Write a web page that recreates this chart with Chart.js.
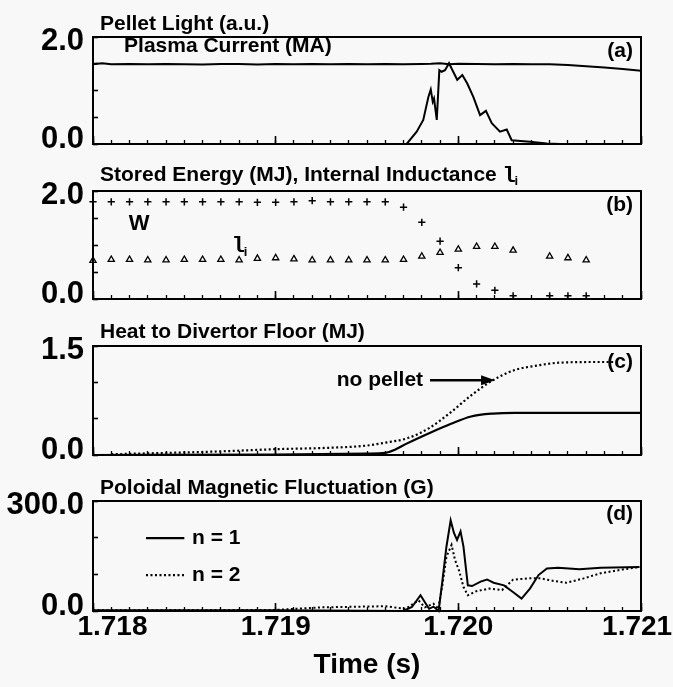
<!DOCTYPE html>
<html>
<head>
<meta charset="utf-8">
<script src="https://cdn.jsdelivr.net/npm/chart.js@4.4.0/dist/chart.umd.min.js"></script>
<style>
html,body{margin:0;padding:0;background:#f8f8f8;}
#wrap{position:relative;width:673px;height:687px;overflow:hidden;background:#f8f8f8;}
canvas{position:absolute;left:0;top:0;}
</style>
</head>
<body>
<div id="wrap">
<canvas id="ca" width="673" height="687"></canvas>
<canvas id="cb" width="673" height="687"></canvas>
<canvas id="cc" width="673" height="687"></canvas>
<canvas id="cd" width="673" height="687"></canvas>
</div>
<script>
// ---------------- data ----------------
const xTickValues = [1.718, 1.719, 1.720, 1.721];
const xTickLabels = ['1.718', '1.719', '1.720', '1.721'];

// (a) plasma current (MA)
const currentTime = [1.7180,1.71805,1.7181,1.7182,1.7183,1.7184,1.7185,1.7186,1.7187,1.7188,1.7189,1.7190,1.7191,1.7192,1.7193,1.7194,1.7195,1.7196,1.7197,1.7198,1.71985,1.7199,1.71995,1.7200,1.7201,1.7202,1.7203,1.7204,1.7205,1.7206,1.7207,1.7208,1.7209,1.7210];
const currentMA   = [1.49,1.51,1.49,1.495,1.49,1.495,1.49,1.485,1.495,1.495,1.485,1.495,1.49,1.495,1.49,1.495,1.49,1.495,1.49,1.495,1.50,1.51,1.49,1.50,1.495,1.49,1.495,1.49,1.49,1.475,1.455,1.43,1.40,1.37];
// (a) pellet light (a.u.)
const lightTime = [1.7180,1.7197,1.719717,1.719772,1.719808,1.719836,1.719849,1.719860,1.719867,1.719882,1.719896,1.719908,1.719927,1.719949,1.719972,1.719994,1.720022,1.720049,1.720082,1.720119,1.720151,1.720183,1.720228,1.720265,1.720292,1.720392,1.720484,1.720557,1.7210];
const lightAU   = [0,0,0,0.23,0.45,0.88,1.02,0.79,0.85,0.45,1.38,1.35,1.38,1.51,1.35,1.20,1.29,1.13,0.88,0.54,0.62,0.39,0.23,0.27,0.07,0.04,0.01,0,0];

// (b) stored energy W (MJ) and internal inductance li
const energyTime = [1.7180,1.7181,1.7182,1.7183,1.7184,1.7185,1.7186,1.7187,1.7188,1.7189,1.7190,1.7191,1.7192,1.7193,1.7194,1.7195,1.7196,1.7197,1.7198,1.7199,1.7200,1.7201,1.7202,1.7203,1.7205,1.7206,1.7207];
const energyMJ   = [1.80,1.80,1.80,1.80,1.80,1.80,1.80,1.80,1.80,1.79,1.79,1.80,1.82,1.80,1.80,1.80,1.80,1.70,1.42,1.07,0.58,0.28,0.16,0.06,0.06,0.06,0.06];
const inductTime = [1.7180,1.7181,1.7182,1.7183,1.7184,1.7185,1.7186,1.7187,1.7188,1.7189,1.7190,1.7191,1.7192,1.7193,1.7194,1.7195,1.7196,1.7197,1.7198,1.7199,1.7200,1.7201,1.7202,1.7203,1.7205,1.7206,1.7207];
const inductLi   = [0.71,0.73,0.73,0.72,0.72,0.73,0.73,0.73,0.72,0.75,0.76,0.74,0.72,0.72,0.72,0.72,0.72,0.73,0.79,0.86,0.92,0.97,0.97,0.90,0.79,0.76,0.72];

// (c) heat to divertor floor (MJ)
const heatPelletTime = [1.7180,1.7190,1.7195,1.7196,1.71965,1.71972,1.71984,1.71996,1.72007,1.72019,1.72031,1.7210];
const heatPelletMJ   = [0,0.005,0.02,0.03,0.07,0.16,0.30,0.43,0.53,0.57,0.58,0.58];
const heatNoPelletTime = [1.7181,1.7187,1.7190,1.7193,1.7195,1.71960,1.71972,1.71984,1.71996,1.72007,1.72019,1.72031,1.72043,1.72055,1.72078,1.72085];
const heatNoPelletMJ   = [0.01,0.05,0.08,0.10,0.13,0.17,0.23,0.37,0.59,0.82,1.03,1.17,1.23,1.27,1.28,1.28];

// (d) poloidal magnetic fluctuation (G)
const n1Time = [1.7180,1.7190,1.719699,1.719746,1.719793,1.719822,1.719840,1.719864,1.719892,1.719911,1.719935,1.719958,1.719976,1.719993,1.720012,1.720028,1.720052,1.720075,1.720122,1.720157,1.720193,1.720250,1.720299,1.720346,1.720392,1.720439,1.720485,1.720546,1.720663,1.720780,1.720992];
const n1Gauss = [2,2,0,11,43,20,6,12,0,75,176,247,213,194,217,176,70,68,80,86,77,70,52,34,61,98,116,118,114,118,120];
const n2Time = [1.7180,1.7190,1.71925,1.7196,1.719711,1.719782,1.719817,1.719864,1.719889,1.719911,1.719935,1.719963,1.719982,1.720004,1.720028,1.720052,1.720099,1.720169,1.720239,1.720299,1.720381,1.720451,1.720521,1.720592,1.720686,1.720780,1.720898,1.720992];
const n2Gauss = [2,3,10,13,6,29,10,20,5,65,148,180,139,110,66,43,54,61,57,85,89,89,82,77,89,103,113,120];

// ---------------- styling / layout ----------------
const FONT = "'Liberation Sans', Arial, Helvetica, sans-serif";
const MONO = "'Liberation Mono', 'DejaVu Sans Mono', monospace";
const INK = '#000';
const PANEL_TOP = [37, 191, 346, 501];
const PANEL_BOTTOM = [144, 299, 455, 611];
const TITLE_OFF = [13, 16, 14, 13];
const W = 673, H = 687;

function pts(t, v) { return t.map((x, i) => ({x: x, y: v[i]})); }

function lineDs(t, v, dashed, width) {
  return {data: pts(t, v), borderColor: INK, borderWidth: width || 2, pointRadius: 0,
          borderDash: dashed ? [2, 2.5] : [], tension: 0, fill: false, clip: 4};
}

function text(ctx, s, x, y, size, align, family) {
  ctx.save();
  ctx.font = 'bold ' + size + 'px ' + (family || FONT);
  ctx.fillStyle = INK;
  ctx.textAlign = align || 'left';
  ctx.textBaseline = 'middle';
  ctx.fillText(s, x, y);
  ctx.restore();
}

function makePanel(id, idx, datasets, yMax, yStep, title, extras) {
  const isLast = idx === 3;
  const xH = isLast ? 76 : 0;
  const minorTicks = [];
  for (let i = 0; i <= 30; i++) minorTicks.push(+(1.718 + i * 0.0001).toFixed(4));
  return new Chart(document.getElementById(id), {
    type: 'line',
    data: {datasets: datasets},
    options: {
      responsive: false, animation: false, events: [], devicePixelRatio: 1,
      layout: {padding: {left: 0, right: 32, top: PANEL_TOP[idx], bottom: H - PANEL_BOTTOM[idx] - xH}},
      plugins: {legend: {display: false}, tooltip: {enabled: false}, title: {display: false}},
      scales: {
        x: {
          type: 'linear', min: 1.718, max: 1.721, position: 'bottom', weight: 0,
          afterBuildTicks: s => { s.ticks = minorTicks.map(v => ({value: v})); },
          ticks: {display: false},
          grid: {drawOnChartArea: false, drawTicks: true, tickLength: -4, tickColor: INK, tickWidth: 1.3},
          border: {display: false},
          afterFit: s => { s.height = 0; s.paddingLeft = 0; s.paddingRight = 0; }
        },
        x2: {
          type: 'linear', min: 1.718, max: 1.721, position: 'bottom', weight: 1,
          afterBuildTicks: s => { s.ticks = xTickValues.map(v => ({value: v})); },
          ticks: {display: isLast, autoSkip: false, maxRotation: 0, padding: 7, color: INK,
                  font: {family: FONT, size: 28, weight: 'bold'},
                  callback: (v, i) => (i === 0 ? '     ' : '') + xTickLabels[i] + (i === 3 ? ' ' : '')},
          grid: {drawOnChartArea: false, drawTicks: true, tickLength: -8, tickColor: INK, tickWidth: 1.6},
          border: {display: false},
          title: {display: isLast, text: 'Time (s)', color: INK,
                  font: {family: FONT, size: 28, weight: 'bold'}, padding: {top: 0, bottom: 5}},
          afterFit: s => { s.height = xH; s.paddingLeft = 0; s.paddingRight = 0; }
        },
        y: {
          type: 'linear', min: 0, max: yMax, position: 'left',
          ticks: {stepSize: yStep, autoSkip: false, padding: 14, color: INK,
                  font: {family: FONT, size: 31, weight: 'bold', lineHeight: '9px'},
                  // end labels sit slightly inside the frame, as in the original figure
                  callback: v => v === 0 ? [v.toFixed(1), ''] : (v === yMax ? ['', v.toFixed(1)] : '')},
          grid: {drawOnChartArea: false, drawTicks: true, tickLength: -5, tickColor: INK, tickWidth: 1.6},
          border: {display: false},
          afterFit: s => { s.width = 93; s.paddingTop = 0; s.paddingBottom = 0; }
        }
      }
    },
    plugins: [{
      id: 'frame' + idx,
      afterDraw(chart) {
        const ctx = chart.ctx, a = chart.chartArea;
        ctx.save();
        ctx.strokeStyle = INK; ctx.lineWidth = 2;
        ctx.strokeRect(a.left, a.top, a.right - a.left, a.bottom - a.top);
        ctx.restore();
        title(ctx, a.left + 7, a.top - TITLE_OFF[idx]);
        extras(chart, ctx, chart.scales.x, chart.scales.y);
      }
    }]
  });
}

// (a)
makePanel('ca', 0, [
  lineDs(currentTime, currentMA, false, 2),
  lineDs(lightTime, lightAU, false, 2)
], 2.0, 0.5,
(ctx, x, y) => text(ctx, 'Pellet Light (a.u.)', x, y, 21),
(chart, ctx, xs, ys) => {
  text(ctx, 'Plasma Current (MA)', xs.getPixelForValue(1.71817), ys.getPixelForValue(1.83), 21);
  text(ctx, '(a)', xs.getPixelForValue(1.720956), ys.getPixelForValue(1.74), 21, 'right');
});

// (b)
makePanel('cb', 1, [
  {data: pts(energyTime, energyMJ), showLine: false, pointStyle: 'cross', pointRadius: 3.6,
   borderColor: INK, borderWidth: 1.5, clip: false},
  {data: pts(inductTime, inductLi), showLine: false, pointStyle: 'triangle', pointRadius: 3.6,
   borderColor: INK, backgroundColor: 'rgba(0,0,0,0)', borderWidth: 1.3, clip: false}
], 2.0, 0.5,
(ctx, x, y) => {
  const s = 'Stored Energy (MJ), Internal Inductance ';
  text(ctx, s, x, y, 21);
  ctx.save(); ctx.font = 'bold 21px ' + FONT; const w = ctx.measureText(s).width; ctx.restore();
  text(ctx, 'l', x + w, y + 1, 22, 'left', MONO);
  text(ctx, 'i', x + w + 12, y + 6, 13);
},
(chart, ctx, xs, ys) => {
  text(ctx, 'W', xs.getPixelForValue(1.718252), ys.getPixelForValue(1.39), 22, 'center');
  const lx = xs.getPixelForValue(1.71876), ly = ys.getPixelForValue(0.98);
  text(ctx, 'l', lx, ly, 22, 'left', MONO);
  text(ctx, 'i', lx + 12, ly + 6, 13);
  text(ctx, '(b)', xs.getPixelForValue(1.720956), ys.getPixelForValue(1.74), 21, 'right');
});

// (c)
makePanel('cc', 2, [
  Object.assign(lineDs(heatPelletTime, heatPelletMJ, false, 2.2), {tension: 0.35, cubicInterpolationMode: 'monotone'}),
  Object.assign(lineDs(heatNoPelletTime, heatNoPelletMJ, true, 2.2), {tension: 0.35, cubicInterpolationMode: 'monotone'})
], 1.5, 0.5,
(ctx, x, y) => text(ctx, 'Heat to Divertor Floor (MJ)', x, y, 21),
(chart, ctx, xs, ys) => {
  const yy = ys.getPixelForValue(1.03);
  text(ctx, 'no pellet', xs.getPixelForValue(1.719807), yy, 21, 'right');
  const x0 = xs.getPixelForValue(1.719845), x1 = xs.getPixelForValue(1.720201);
  ctx.save();
  ctx.strokeStyle = INK; ctx.fillStyle = INK; ctx.lineWidth = 2.5;
  ctx.beginPath(); ctx.moveTo(x0, yy); ctx.lineTo(x1 - 10, yy); ctx.stroke();
  ctx.beginPath(); ctx.moveTo(x1, yy); ctx.lineTo(x1 - 14, yy - 5); ctx.lineTo(x1 - 14, yy + 5); ctx.closePath(); ctx.fill();
  ctx.restore();
  text(ctx, '(c)', xs.getPixelForValue(1.720956), ys.getPixelForValue(1.28), 21, 'right');
});

// (d)
makePanel('cd', 3, [
  lineDs(n1Time, n1Gauss, false, 2),
  lineDs(n2Time, n2Gauss, true, 2)
], 300, 100,
(ctx, x, y) => text(ctx, 'Poloidal Magnetic Fluctuation (G)', x, y, 21),
(chart, ctx, xs, ys) => {
  text(ctx, '(d)', xs.getPixelForValue(1.720956), ys.getPixelForValue(265), 21, 'right');
  const lx0 = xs.getPixelForValue(1.71829), lx1 = xs.getPixelForValue(1.71850), tx = xs.getPixelForValue(1.718542);
  const y1 = ys.getPixelForValue(199), y2 = ys.getPixelForValue(98);
  ctx.save();
  ctx.strokeStyle = INK; ctx.lineWidth = 2.2;
  ctx.beginPath(); ctx.moveTo(lx0, y1); ctx.lineTo(lx1, y1); ctx.stroke();
  ctx.setLineDash([2, 2.5]);
  ctx.beginPath(); ctx.moveTo(lx0, y2); ctx.lineTo(lx1, y2); ctx.stroke();
  ctx.restore();
  text(ctx, 'n = 1', tx, y1, 21);
  text(ctx, 'n = 2', tx, y2, 21);
});
</script>
</body>
</html>
